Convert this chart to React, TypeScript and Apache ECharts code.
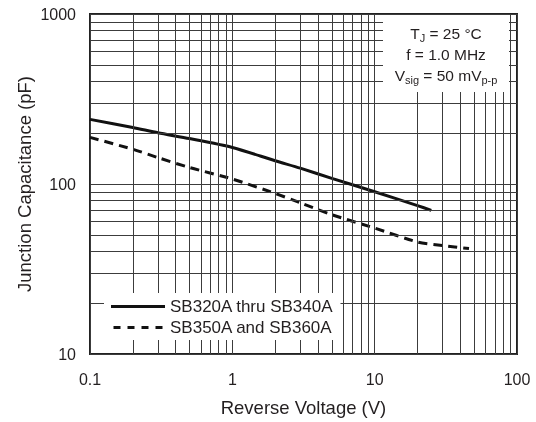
import React, { useEffect, useRef } from "react";
import * as echarts from "echarts";

const FONT = '"Liberation Sans", Arial, Helvetica, sans-serif';
const TEXT = "#231f20";
const GRIDC = "#3c3c3c";

const seriesNames = ["SB320A thru SB340A", "SB350A and SB360A"];

const voltsA = [0.1, 0.2, 0.3, 0.5, 1, 2, 3, 5, 10, 20, 25];
const capA = [240, 215, 200, 185, 164, 137, 124, 108, 90, 74.6, 70];

const voltsB = [0.1, 0.2, 0.3, 0.5, 1, 2, 3, 5, 10, 20, 30, 46];
const capB = [188, 160, 143, 125, 107, 88, 77.5, 66, 55, 45.6, 43.5, 41.7];

const xMinorGrid = [0.2, 0.3, 0.4, 0.5, 0.6, 0.7, 0.8, 0.9, 2, 3, 4, 5, 6, 7, 8, 9, 20, 30, 40, 50, 60, 70, 80, 90];
const yMinorGrid = [20, 30, 40, 50, 60, 70, 80, 90, 200, 300, 400, 500, 600, 700, 800, 900];

const noteLines = [
  "{n|T}{s|J}{n| = 25 °C}",
  "{n|f = 1.0 MHz}",
  "{n|V}{s|sig}{n| = 50 mV}{s|p-p}",
];

const DASH_ICON = "path://M0,0h7v3h-7z M14,0h7v3h-7z M28,0h7v3h-7z M42,0h7v3h-7z";

export default function App() {
  const ref = useRef<HTMLDivElement>(null);
  useEffect(() => {
    if (!ref.current) return;
    const chart = echarts.init(ref.current, undefined, { renderer: "svg" });
    const rich = {
      n: { fontSize: 15.5, fontFamily: FONT, color: TEXT, lineHeight: 20 },
      s: { fontSize: 11, fontFamily: FONT, color: TEXT, lineHeight: 20, verticalAlign: "bottom" },
    };
    const noteY = [33.5, 54.5, 75];
    chart.setOption({
      animation: false,
      textStyle: { fontFamily: FONT, color: TEXT },
      grid: {
        left: 90,
        top: 14,
        right: 19,
        bottom: 66,
        show: true,
        borderColor: "#222",
        borderWidth: 2,
        backgroundColor: "#fff",
      },
      xAxis: {
        type: "log",
        logBase: 10,
        min: 0.1,
        max: 100,
        name: "Reverse Voltage (V)",
        nameLocation: "middle",
        nameGap: 44,
        nameMoveOverlap: false,
        nameTextStyle: { fontSize: 18.5, color: TEXT, fontFamily: FONT },
        axisLine: { show: false },
        axisTick: { show: false },
        axisLabel: { fontSize: 16, color: TEXT, fontFamily: FONT, margin: 17, formatter: (v: number) => String(v) },
        splitLine: { show: true, lineStyle: { color: GRIDC, width: 1 } },
      },
      yAxis: {
        type: "log",
        logBase: 10,
        min: 10,
        max: 1000,
        name: "Junction Capacitance (pF)",
        nameLocation: "middle",
        nameGap: 56,
        nameMoveOverlap: false,
        nameTextStyle: { fontSize: 18.5, color: TEXT, fontFamily: FONT },
        axisLine: { show: false },
        axisTick: { show: false },
        axisLabel: { fontSize: 16, color: TEXT, fontFamily: FONT, margin: 14, formatter: (v: number) => String(v) },
        splitLine: { show: true, lineStyle: { color: GRIDC, width: 1 } },
      },
      legend: {
        orient: "vertical",
        left: 104,
        top: 293,
        padding: [5, 7, 4, 7],
        itemWidth: 54,
        itemHeight: 3,
        itemGap: 4,
        backgroundColor: "#fff",
        textStyle: { fontSize: 17, color: TEXT, fontFamily: FONT },
        data: [
          { name: seriesNames[0], icon: "rect", itemStyle: { color: "#111" } },
          { name: seriesNames[1], icon: DASH_ICON, itemStyle: { color: "#111" } },
        ],
        z: 10,
      },
      series: [
        {
          name: "grid",
          type: "line",
          data: [[1, 100]],
          symbol: "none",
          lineStyle: { opacity: 0 },
          silent: true,
          z: 1,
          markLine: {
            silent: true,
            symbol: ["none", "none"],
            label: { show: false },
            lineStyle: { color: GRIDC, width: 1, type: "solid" },
            emphasis: { disabled: true },
            data: [
              ...xMinorGrid.map((v) => ({ xAxis: v })),
              ...yMinorGrid.map((v) => ({ yAxis: v })),
            ],
          },
        },
        {
          name: seriesNames[0],
          type: "line",
          data: voltsA.map((v, i) => [v, capA[i]]),
          symbol: "none",
          smooth: 0.25,
          z: 3,
          itemStyle: { color: "#111" },
          lineStyle: { color: "#111", width: 3, type: "solid" },
        },
        {
          name: seriesNames[1],
          type: "line",
          data: voltsB.map((v, i) => [v, capB[i]]),
          symbol: "none",
          smooth: 0.25,
          z: 3,
          itemStyle: { color: "#111" },
          lineStyle: { color: "#111", width: 3, type: [9, 6] },
        },
      ],
      graphic: [
        {
          type: "rect",
          shape: { x: 383, y: 15, width: 126, height: 77 },
          style: { fill: "#fff" },
          z: 50,
        },
        ...noteLines.map((t, i) => ({
          type: "text",
          x: 446,
          y: noteY[i],
          z: 51,
          style: {
            text: t,
            rich,
            align: "center",
            verticalAlign: "middle",
            fill: TEXT,
            font: `15.5px ${FONT}`,
          },
        })),
      ],
    });
    return () => chart.dispose();
  }, []);
  return <div ref={ref} style={{ position: "fixed", left: 0, top: 0, width: 536, height: 422 }} />;
}
